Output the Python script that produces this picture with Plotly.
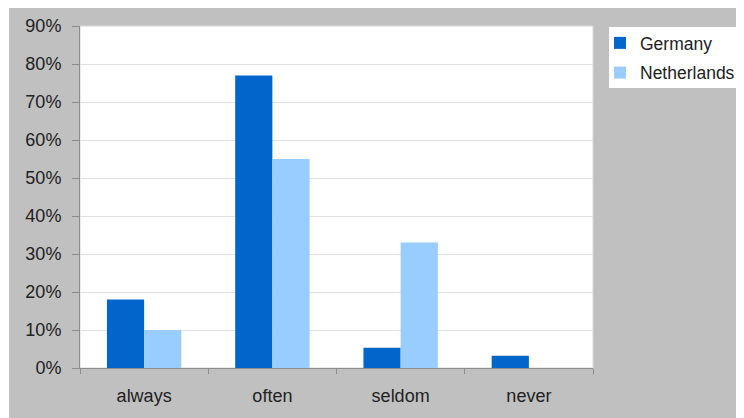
import plotly.graph_objects as go

categories = ["always", "often", "seldom", "never"]
germany = [0.18, 0.77, 0.053, 0.032]
netherlands = [0.10, 0.55, 0.33, 0.0]
series_names = ["Germany", "Netherlands"]
y_tick_vals = [0, 0.1, 0.2, 0.3, 0.4, 0.5, 0.6, 0.7, 0.8, 0.9]
y_tick_text = ["0%", "10%", "20%", "30%", "40%", "50%", "60%", "70%", "80%", "90%"]

# page has an 8px body margin; figure sized so it fills the 744x418 window
OFF = 8
W, H = 744 - OFF, 418 - OFF
L, R, T, B = 80 - OFF, 151, 26 - OFF, 50
pw = W - L - R
ph = H - T - B

def px_x(x):
    # x in page pixels
    return (x - OFF - L) / pw

def px_y(y):
    return (H - B - (y - OFF)) / ph

fig = go.Figure()
fig.add_trace(go.Bar(x=categories, y=germany, name=series_names[0],
                     marker=dict(color="#0066CC", line=dict(width=0)),
                     legendgroup="g1"))
fig.add_trace(go.Bar(x=categories, y=netherlands, name=series_names[1],
                     marker=dict(color="#99CCFF", line=dict(width=0)),
                     legendgroup="g2"))

fig.update_layout(
    width=W, height=H,
    margin=dict(l=L, r=R, t=T, b=B, autoexpand=False),
    paper_bgcolor="white",
    plot_bgcolor="rgba(0,0,0,0)",
    barmode="group",
    bargap=0.42,
    bargroupgap=0,
    font=dict(family="Liberation Sans, Arial, sans-serif", color="#222", size=18),
    showlegend=True,
    legend=dict(x=px_x(600), y=px_y(25), xanchor="left", yanchor="top",
                bgcolor="rgba(0,0,0,0)", borderwidth=0,
                font=dict(size=17.5, color="#222"),
                tracegroupgap=4),
    shapes=[
        dict(type="rect", xref="paper", yref="paper", layer="below",
             x0=px_x(9), x1=px_x(760), y0=px_y(430), y1=px_y(6),
             fillcolor="#C0C0C0", line=dict(width=0)),
        dict(type="rect", xref="paper", yref="paper", layer="below",
             x0=0, x1=1, y0=0, y1=1,
             fillcolor="white", line=dict(width=1, color="#D8D8D8")),
        dict(type="rect", xref="paper", yref="paper", layer="below",
             x0=px_x(609), x1=px_x(743), y0=px_y(88), y1=px_y(27),
             fillcolor="white", line=dict(width=0)),
    ],
)
fig.update_xaxes(
    showgrid=False, showline=True, linecolor="#8C8C8C", linewidth=1,
    ticks="outside", tickson="boundaries", ticklen=5, tickcolor="#8C8C8C",
    tickfont=dict(size=18, color="#222"), ticklabelstandoff=11,
    zeroline=False,
)
fig.update_yaxes(
    range=[0, 0.9], tickvals=y_tick_vals, ticktext=y_tick_text,
    showgrid=True, gridcolor="#E0E0E0", gridwidth=1,
    showline=True, linecolor="#8C8C8C", linewidth=1,
    ticks="outside", ticklen=7, tickcolor="#8C8C8C",
    tickfont=dict(size=18, color="#222"), ticklabelstandoff=7,
    zeroline=False,
)

fig.write_html("out.html")
